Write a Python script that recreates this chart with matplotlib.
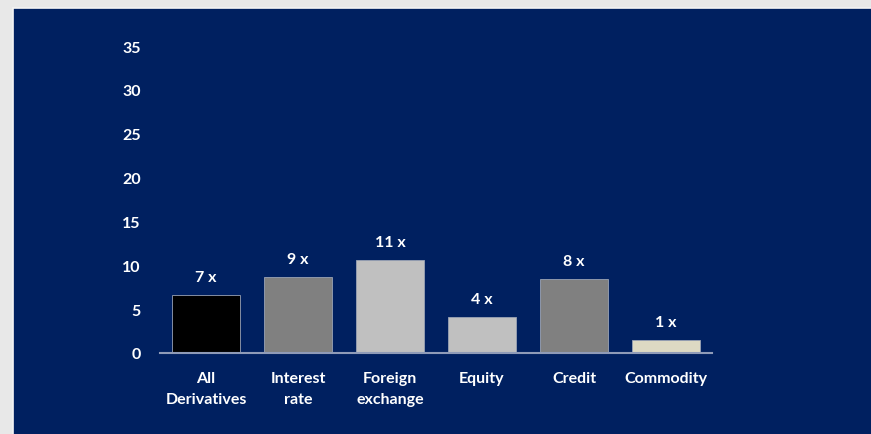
import matplotlib.pyplot as plt
import matplotlib.patches as mpatches

categories = ['All\nDerivatives', 'Interest\nrate', 'Foreign\nexchange', 'Equity', 'Credit', 'Commodity']
values = [6.6, 8.7, 10.6, 4.1, 8.45, 1.5]
value_labels = ['7 x', '9 x', '11 x', '4 x', '8 x', '1 x']
bar_colors = ['#000000', '#808080', '#C0C0C0', '#C0C0C0', '#808080', '#DDD9C3']
yticks = [0, 5, 10, 15, 20, 25, 30, 35]

navy = '#002060'
plt.rcParams['font.family'] = ['Lato', 'DejaVu Sans']
fs = 11.5

fig = plt.figure(figsize=(8.71, 4.35), dpi=100)
fig.patch.set_facecolor('#e8e8e8')
# navy panel (light gray frame shows on left and top only)
panel = mpatches.Rectangle((13 / 871, -0.1), 1.1, 1.1 - 9 / 435,
                           transform=fig.transFigure, facecolor=navy,
                           edgecolor='#f4f4f4', linewidth=1.2, zorder=-10)
fig.add_artist(panel)

ax = fig.add_axes([160 / 871, 1 - 354 / 435, 552 / 871, 307 / 435])
ax.patch.set_alpha(0)

x = range(len(categories))
bars = ax.bar(x, values, width=0.74, color=bar_colors, edgecolor='#9aa3b5', linewidth=0.6, zorder=2)
for b, lab in zip(bars, value_labels):
    ax.annotate(lab, (b.get_x() + b.get_width() / 2, b.get_height()),
                xytext=(0, 8), textcoords='offset points', ha='center', va='bottom',
                color='white', fontsize=fs, fontweight='bold')

ax.set_xlim(-0.5, len(categories) - 0.5)
ax.set_ylim(0, 35)
ax.set_xticks(list(x))
ax.set_xticklabels(categories, color='white', fontsize=fs, fontweight='bold', linespacing=1.6)
ax.set_yticks(yticks)
ax.set_yticklabels([str(t) for t in yticks], color='white', fontsize=fs, fontweight='bold')
ax.tick_params(axis='both', length=0)
ax.tick_params(axis='y', pad=14)
ax.tick_params(axis='x', pad=13)

for s in ['top', 'right', 'left']:
    ax.spines[s].set_visible(False)
ax.spines['bottom'].set_color('#8f9bb8')
ax.spines['bottom'].set_linewidth(1.5)

fig.savefig('out.png', dpi=100, facecolor=fig.get_facecolor())
